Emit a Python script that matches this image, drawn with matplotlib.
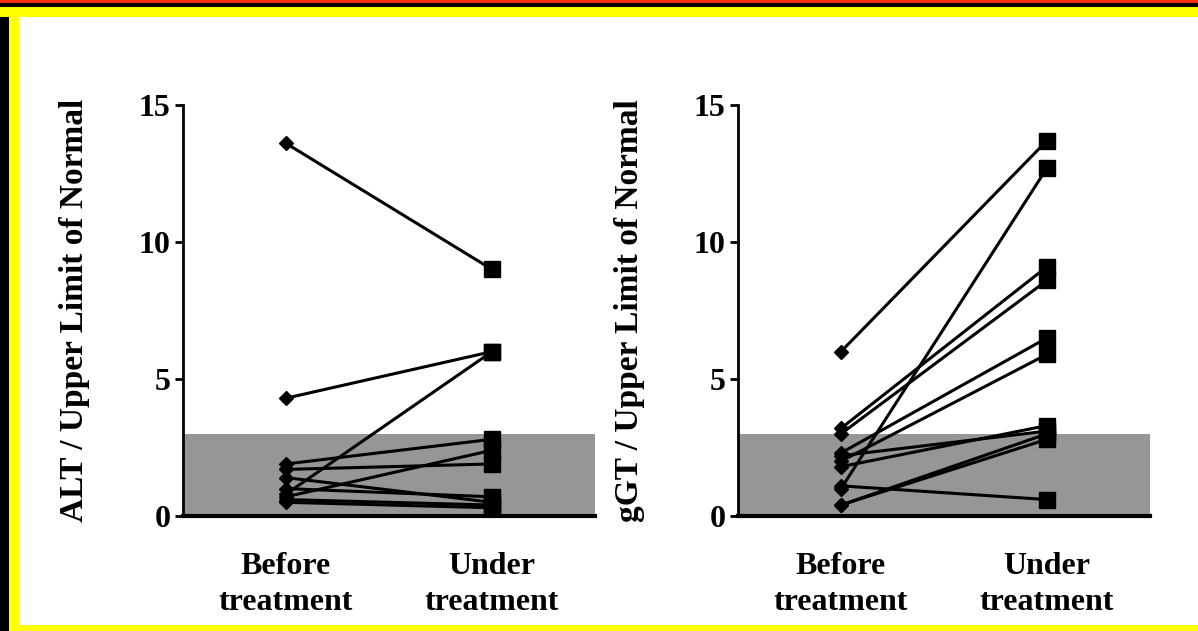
import matplotlib.pyplot as plt
from matplotlib.patches import Rectangle

# ALT / ULN, paired values per patient
alt_before = [13.6, 4.3, 1.9, 1.7, 1.4, 1.0, 0.8, 0.7, 0.6, 0.5]
alt_under = [9.0, 6.0, 2.8, 1.9, 0.5, 0.7, 6.0, 2.4, 0.4, 0.3]

# gGT / ULN, paired values per patient
ggt_before = [6.0, 1.0, 3.2, 3.0, 2.3, 2.0, 1.8, 2.2, 1.1, 0.4, 0.4]
ggt_under = [13.7, 12.7, 9.1, 8.6, 6.5, 5.9, 3.3, 3.1, 0.6, 2.8, 3.0]

groups = ["Before\ntreatment", "Under\ntreatment"]
ylabels = ["ALT / Upper Limit of Normal", "gGT / Upper Limit of Normal"]
normal_limit = 3

plt.rcParams['font.family'] = ['Liberation Serif', 'DejaVu Serif']
plt.rcParams['font.weight'] = 'bold'

fig = plt.figure(figsize=(11.98, 6.31), dpi=100)
W, H = 1198, 631

# frame around the picture (pixel bands)
def band(x, y, w, h, c):
    fig.patches.append(Rectangle((x / W, 1 - (y + h) / H), w / W, h / H,
                                 transform=fig.transFigure, color=c, lw=0, zorder=0))

band(0, 3, W, 4, 'black')
band(0, 0, 9, H, 'black')
band(0, 7, W, 10, '#ffff00')
band(9, 7, 10, H, '#ffff00')
band(9, 625, W, 6, '#ffff00')
band(0, 0, W, 3, '#ff3010')

lefts = [183, 738]
data = [(alt_before, alt_under), (ggt_before, ggt_under)]

for i in range(2):
    ax = fig.add_axes([lefts[i] / W, 115 / H, 412 / W, 411 / H])
    ax.patch.set_alpha(0)
    before, under = data[i]
    ax.axhspan(0, normal_limit, color='#969696', zorder=1, lw=0)
    for b, u in zip(before, under):
        ax.plot([0, 1], [b, u], color='black', lw=2.2, zorder=3)
        ax.plot(0, b, marker='D', ms=7, color='black', zorder=4)
        ax.plot(1, u, marker='s', ms=11, color='black', zorder=4)
    ax.set_xlim(-0.5, 1.5)
    ax.set_ylim(0, 15)
    ax.set_yticks([0, 5, 10, 15])
    ax.set_xticks([0, 1])
    ax.set_xticklabels(groups, fontsize=23, fontweight='bold', linespacing=1.3)
    ax.tick_params(axis='x', length=0, pad=26)
    ax.tick_params(axis='y', length=6, width=2, labelsize=23, pad=3)
    for t in ax.get_yticklabels():
        t.set_fontweight('bold')
    ax.set_ylabel(ylabels[i], fontsize=24, fontweight='bold')
    ax.yaxis.set_label_coords(-0.225, 0.5)
    ax.spines['top'].set_visible(False)
    ax.spines['right'].set_visible(False)
    ax.spines['left'].set_linewidth(2)
    ax.spines['bottom'].set_linewidth(3)
    ax.spines['bottom'].set_zorder(5)

fig.savefig('out.png', dpi=100)
